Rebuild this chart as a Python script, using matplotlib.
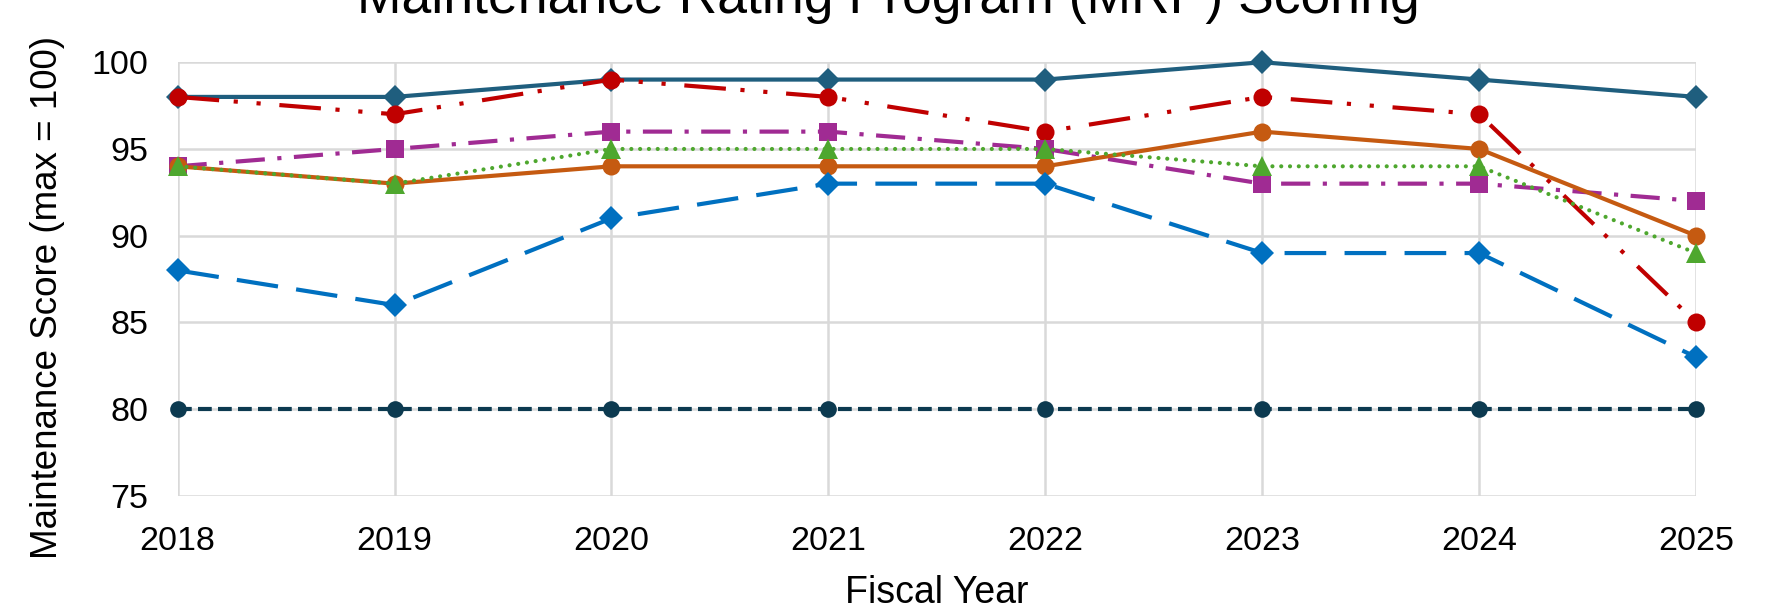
import matplotlib
matplotlib.use("Agg")
import matplotlib.pyplot as plt

plt.rcParams['font.family'] = ['Liberation Sans', 'DejaVu Sans']

# ---- data ----
years = [2018, 2019, 2020, 2021, 2022, 2023, 2024, 2025]

score_teal = [98, 98, 99, 99, 99, 100, 99, 98]
score_red = [98, 97, 99, 98, 96, 98, 97, 85]
score_purple = [94, 95, 96, 96, 95, 93, 93, 92]
score_orange = [94, 93, 94, 94, 94, 96, 95, 90]
score_green = [94, 93, 95, 95, 95, 94, 94, 89]
score_blue = [88, 86, 91, 93, 93, 89, 89, 83]
score_target = [80, 80, 80, 80, 80, 80, 80, 80]

y_ticks = [75, 80, 85, 90, 95, 100]

# ---- figure ----
fig = plt.figure(figsize=(17.76, 6.10), dpi=100)
ax = fig.add_axes([0.100, 0.187, 0.855, 0.711])

LW = 3.0
# (values, colour, linestyle, marker, markersize, capstyle)
styles = [
    (score_teal, '#1F5E7E', '-', 'D', 12.5, 'butt'),
    (score_red, '#C00000', (0, (10, 3.5, 1, 4.5, 1, 4.5)), 'o', 13, 'butt'),
    (score_purple, '#A02B93', (0, (7, 3, 1, 3)), 's', 12.5, 'butt'),
    (score_orange, '#C55A11', '-', 'o', 13, 'butt'),
    (score_green, '#4EA72E', (0, (0.01, 2.1)), '^', 14.5, 'round'),
    (score_blue, '#0070C0', (0, (10, 4.4)), 'D', 12.5, 'butt'),
    (score_target, '#0C3A50', (0, (3.3, 1.5)), 'o', 12, 'butt'),
]

for vals, col, ls, mk, ms, cap in styles:
    line, = ax.plot(years, vals, color=col, linestyle=ls, linewidth=LW,
                    marker=mk, markersize=ms, markeredgewidth=0,
                    clip_on=False, zorder=3)
    line.set_dash_capstyle(cap)

ax.set_xlim(2018, 2025)
ax.set_ylim(75, 100)
ax.set_xticks(years)
ax.set_yticks(y_ticks)
ax.tick_params(axis='x', length=0, labelsize=24.5, pad=22)
ax.tick_params(axis='y', length=0, labelsize=24.5, pad=21)
ax.grid(True, color='#D9D9D9', linewidth=1.8, zorder=0)
ax.set_axisbelow(True)
for s in ax.spines.values():
    s.set_visible(False)

# axis titles and chart title placed in figure coords
fig.text(0.5275, 0.012, 'Fiscal Year', ha='center', va='baseline', fontsize=27)
fig.text(0.027, 0.513, 'Maintenance Score (max = 100)', rotation=90,
         ha='center', va='center', fontsize=26.5)
fig.text(0.5, 0.979, 'Maintenance Rating Program (MRP) Scoring',
         ha='center', va='baseline', fontsize=38.5)

fig.savefig('out.png', dpi=100)
